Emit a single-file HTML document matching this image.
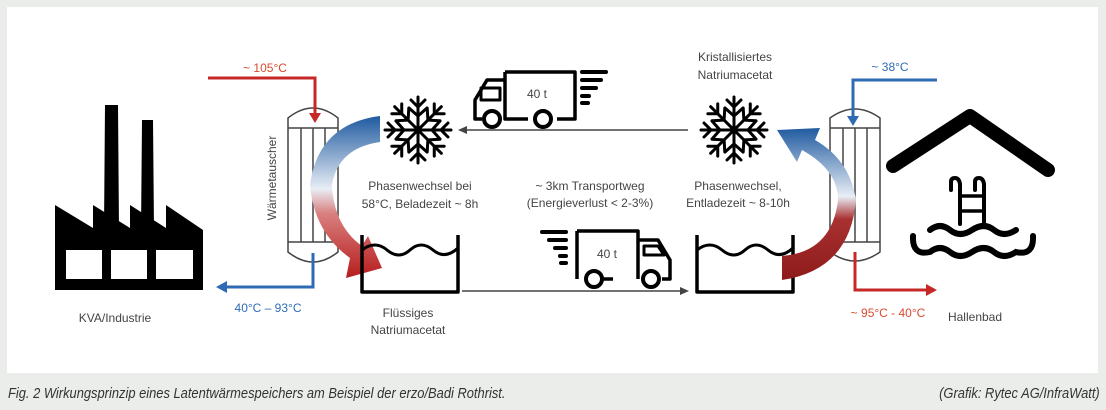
<!DOCTYPE html>
<html><head><meta charset="utf-8"><style>
html,body{margin:0;padding:0;background:#ebedeb;}
body{width:1106px;height:410px;position:relative;overflow:hidden;font-family:"Liberation Sans",sans-serif;}
.cap{position:absolute;top:385px;font-style:italic;font-size:15px;color:#333;transform:scaleX(0.86);white-space:nowrap;}
</style></head><body>
<svg width="1106" height="410" style="position:absolute;left:0;top:0" font-family="Liberation Sans, sans-serif">
<defs>
<linearGradient id="gl" x1="0" y1="0" x2="0" y2="1">
<stop offset="0" stop-color="#1f5aa0"/><stop offset="0.45" stop-color="#e8eef5"/><stop offset="0.6" stop-color="#d98080"/><stop offset="1" stop-color="#b71c1c"/></linearGradient>
<linearGradient id="gr" x1="0" y1="1" x2="0" y2="0">
<stop offset="0" stop-color="#8e1b1b"/><stop offset="0.4" stop-color="#a83030"/><stop offset="0.55" stop-color="#e8eef5"/><stop offset="1" stop-color="#1f5aa0"/></linearGradient>
<g id="flake" stroke="#000" stroke-width="3" fill="none" stroke-linecap="round">
<g id="arm"><line x1="0" y1="0" x2="0" y2="-33"/><polyline points="-7,-30 0,-23 7,-30"/><polyline points="-9,-22 0,-14 9,-22"/></g>
<use href="#arm" transform="rotate(45)"/><use href="#arm" transform="rotate(90)"/><use href="#arm" transform="rotate(135)"/><use href="#arm" transform="rotate(180)"/><use href="#arm" transform="rotate(225)"/><use href="#arm" transform="rotate(270)"/><use href="#arm" transform="rotate(315)"/>
</g>
</defs>
<rect x="7" y="7" width="1091" height="366" fill="#fff"/>
<!-- factory -->
<path d="M55,290 L55,205 L93,228 L93,205 L130,228 L130,205 L166,228 L166,205 L203,230 L203,290 Z" fill="#000"/>
<path d="M105,105 L118,105 L119,230 L104,230 Z M142,120 L153,120 L154,230 L141,230 Z" fill="#000"/>
<rect x="66" y="250" width="36" height="29" fill="#fff"/><rect x="111" y="250" width="36" height="29" fill="#fff"/><rect x="156" y="250" width="37" height="29" fill="#fff"/>
<text x="115" y="322" font-size="12" fill="#444" text-anchor="middle">KVA/Industrie</text>
<!-- left exchanger -->
<g stroke="#444" stroke-width="1.5" fill="none">
<path d="M288,252 L288,118 Q313,98 338,118 L338,252 Q313,272 288,252 Z"/>
<line x1="288" y1="128" x2="338" y2="128"/><line x1="288" y1="242" x2="338" y2="242"/>
<line x1="301" y1="128" x2="301" y2="242"/><line x1="313" y1="128" x2="313" y2="242"/><line x1="325" y1="128" x2="325" y2="242"/>
</g>
<polyline points="208,78 315,78 315,115" fill="none" stroke="#c62828" stroke-width="3"/>
<polygon points="309,113 321,113 315,123" fill="#c62828"/>
<polyline points="313,253 313,287 225,287" fill="none" stroke="#2f6bb5" stroke-width="3"/>
<polygon points="227,281 227,293 216,287" fill="#2f6bb5"/>
<text x="265" y="72" font-size="12" fill="#d84a30" text-anchor="middle">~ 105°C</text>
<text x="268" y="312" font-size="12" fill="#2f6bb5" text-anchor="middle">40°C – 93°C</text>
<text transform="translate(276,178) rotate(-90)" font-size="12" fill="#444" text-anchor="middle">Wärmetauscher</text>
<path d="M380,116 Q318,124 310,185 Q314,232 350,258 L346,278 L382,268 L368,236 L362,246 Q334,226 332,185 Q338,148 380,142 Z" fill="url(#gl)"/>
<!-- left snowflake + text -->
<use href="#flake" transform="translate(418,130)"/>
<text x="420" y="190" font-size="12" fill="#444" text-anchor="middle">Phasenwechsel bei</text>
<text x="420" y="208" font-size="12" fill="#444" text-anchor="middle">58°C, Beladezeit ~ 8h</text>
<!-- left tank -->
<path d="M362,235 L362,292 L458,292 L458,235" fill="none" stroke="#000" stroke-width="3.5" stroke-linejoin="round"/>
<path d="M362,250 Q375,240 387,250 T410,250 T433,250 T458,248" fill="none" stroke="#000" stroke-width="3"/>
<text x="408" y="317" font-size="12" fill="#444" text-anchor="middle">Flüssiges</text>
<text x="408" y="334" font-size="12" fill="#444" text-anchor="middle">Natriumacetat</text>
<!-- lines -->
<line x1="688" y1="130" x2="465" y2="130" stroke="#444" stroke-width="1.5"/><polygon points="458,130 467,126 467,134" fill="#444"/>
<line x1="462" y1="291" x2="682" y2="291" stroke="#444" stroke-width="1.5"/><polygon points="689,291 680,287 680,295" fill="#444"/>
<!-- top truck -->
<g stroke="#000" stroke-width="3.5" fill="none" stroke-linejoin="round">
<path d="M505,72 L575,72 L575,119 L557,119 M528,119 L505,119 L505,72 M505,80 L487,80 L475,100 L475,119 L482,119"/>
<path d="M481,100 L481,88 L500,88 L500,100 Z" stroke-width="3"/>
</g>
<circle cx="492" cy="119" r="8" fill="#fff" stroke="#000" stroke-width="4"/><circle cx="543" cy="119" r="8" fill="#fff" stroke="#000" stroke-width="4"/>
<text x="537" y="98" font-size="12" fill="#444" text-anchor="middle">40 t</text>
<g stroke="#000" stroke-width="4" stroke-linecap="round"><line x1="582" y1="72" x2="606" y2="72"/><line x1="582" y1="80" x2="601" y2="80"/><line x1="582" y1="88" x2="596" y2="88"/><line x1="582" y1="96" x2="589" y2="96"/><line x1="582" y1="103" x2="588" y2="103"/></g>
<!-- bottom truck -->
<g stroke="#000" stroke-width="3.5" fill="none" stroke-linejoin="round">
<path d="M577,231 L638,231 L638,279 M613,279 L588,279 M577,279 L577,231 M638,240 L658,240 L670,260 L670,279 L662,279"/>
<path d="M644,255 L644,246 L658,246 L664,255 Z" stroke-width="3"/>
</g>
<circle cx="594" cy="279" r="8" fill="#fff" stroke="#000" stroke-width="4"/><circle cx="651" cy="279" r="8" fill="#fff" stroke="#000" stroke-width="4"/>
<text x="607" y="258" font-size="12" fill="#444" text-anchor="middle">40 t</text>
<g stroke="#000" stroke-width="4" stroke-linecap="round"><line x1="542" y1="232" x2="566" y2="232"/><line x1="549" y1="240" x2="566" y2="240"/><line x1="555" y1="248" x2="566" y2="248"/><line x1="560" y1="256" x2="566" y2="256"/><line x1="561" y1="263" x2="566" y2="263"/></g>
<text x="590" y="190" font-size="12" fill="#444" text-anchor="middle">~ 3km Transportweg</text>
<text x="590" y="207" font-size="12" fill="#444" text-anchor="middle">(Energieverlust  &lt; 2-3%)</text>
<!-- right side -->
<text x="735" y="61" font-size="12" fill="#444" text-anchor="middle">Kristallisiertes</text>
<text x="735" y="79" font-size="12" fill="#444" text-anchor="middle">Natriumacetat</text>
<use href="#flake" transform="translate(734,130)"/>
<text x="738" y="190" font-size="12" fill="#444" text-anchor="middle">Phasenwechsel,</text>
<text x="738" y="207" font-size="12" fill="#444" text-anchor="middle">Entladezeit ~ 8-10h</text>
<path d="M697,235 L697,292 L793,292 L793,235" fill="none" stroke="#000" stroke-width="3.5" stroke-linejoin="round"/>
<path d="M697,250 Q710,240 722,250 T745,250 T768,250 T793,248" fill="none" stroke="#000" stroke-width="3"/>
<g stroke="#444" stroke-width="1.5" fill="none">
<path d="M830,252 L830,118 Q855,100 880,118 L880,252 Q855,270 830,252 Z"/>
<line x1="830" y1="128" x2="880" y2="128"/><line x1="830" y1="242" x2="880" y2="242"/>
<line x1="843" y1="128" x2="843" y2="242"/><line x1="855" y1="128" x2="855" y2="242"/><line x1="867" y1="128" x2="867" y2="242"/>
</g>
<polyline points="937,80 853,80 853,118" fill="none" stroke="#2f6bb5" stroke-width="3"/>
<polygon points="847,116 859,116 853,126" fill="#2f6bb5"/>
<polyline points="855,252 855,290 928,290" fill="none" stroke="#c62828" stroke-width="3"/>
<polygon points="926,284 926,296 937,290" fill="#c62828"/>
<text x="890" y="71" font-size="12" fill="#2f6bb5" text-anchor="middle">~ 38°C</text>
<text x="888" y="317" font-size="12" fill="#d84a30" text-anchor="middle">~ 95°C - 40°C</text>
<text x="975" y="321" font-size="12" fill="#444" text-anchor="middle">Hallenbad</text>
<path d="M782,280 Q850,270 856,200 Q850,160 815,140 L820,128 L777,130 L797,162 L802,150 Q838,170 838,200 Q832,252 782,256 Z" fill="url(#gr)"/>
<!-- house -->
<polyline points="893,166 970,116 1048,170" fill="none" stroke="#000" stroke-width="14" stroke-linecap="round" stroke-linejoin="round"/>
<g stroke="#000" fill="none" stroke-linecap="round">
<path d="M951,190 L951,182 Q951,178 955,178 Q959,178 960,184 L960,224" stroke-width="4"/>
<path d="M975,190 L975,182 Q975,178 979,178 Q983,178 984,184 L984,224" stroke-width="4"/>
<line x1="960" y1="196" x2="984" y2="196" stroke-width="3.5"/><line x1="960" y1="211" x2="984" y2="211" stroke-width="3.5"/>
<path d="M930,230 Q940,222 950,230 T972,230 T994,230 T1016,230" stroke-width="6"/>
<path d="M913,236 Q912,256 930,252 Q940,244 950,252 T972,252 T994,252 T1016,252 Q1034,256 1033,236" stroke-width="6"/>
</g>
</svg>
<div class="cap" style="left:8px;transform-origin:left;">Fig. 2 Wirkungsprinzip eines Latentwärmespeichers am Beispiel der erzo/Badi Rothrist.</div>
<div class="cap" style="right:6px;transform-origin:right;">(Grafik: Rytec AG/InfraWatt)</div>
</body></html>
